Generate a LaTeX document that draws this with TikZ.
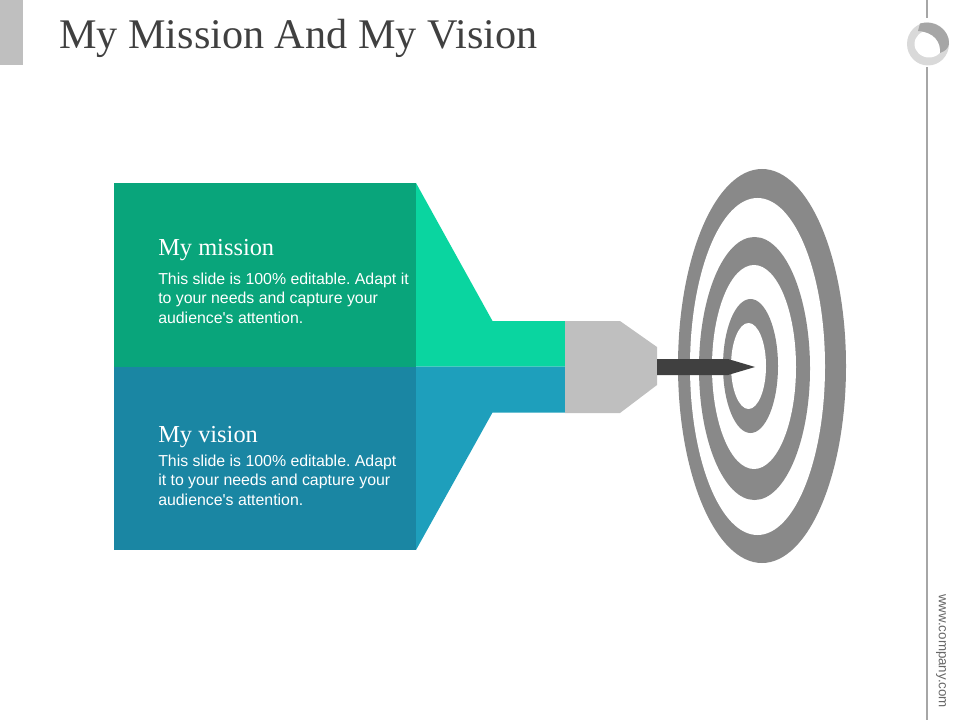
\documentclass[tikz,border=0pt]{standalone}
\usepackage{fontspec}
\setmainfont{Liberation Serif}
\newfontfamily\bodyfont{Liberation Sans}
\frenchspacing
\definecolor{missiondark}{HTML}{09A57B}
\definecolor{missionlight}{HTML}{0AD5A0}
\definecolor{visiondark}{HTML}{1A86A3}
\definecolor{visionlight}{HTML}{1E9FBC}
\definecolor{plugcolor}{HTML}{BFBFBF}
\definecolor{ringcolor}{HTML}{898989}
\definecolor{dartcolor}{HTML}{404040}
\definecolor{rulecolor}{HTML}{A6A6A6}
\tikzset{
    headtext/.style={anchor=base west, inner sep=0pt, text=white, font=\fontsize{18.3}{22}\selectfont},
    bodytext/.style={anchor=base west, inner sep=0pt, text=white, align=left, font=\bodyfont\fontsize{11.9}{14.5}\selectfont},
}
\begin{document}
\begin{tikzpicture}[x=0.75pt, y=-0.75pt]
        \useasboundingbox (0,0) rectangle (960,720);
        \fill[plugcolor] (0,0) rectangle (23,65);
        \draw[rulecolor, line width=1.5pt] (927,0) -- (927,18);
        \draw[rulecolor, line width=1.5pt] (927,67) -- (927,720);
        \fill[black!15] (928,44) circle [x radius=21, y radius=21.5];
        \fill[white] (929,44) circle [x radius=14.5, y radius=13.5];
        \fill[black!35] (920,23.5) .. controls (934,19) and (950,30) .. (949,44) .. controls (948,49) and (945,51) .. (940,53) .. controls (941,42) and (934,32) .. (918,31) -- cycle;
        \node[anchor=base west, inner sep=0pt, text=dartcolor, font=\fontsize{31.65}{38}\selectfont] (title) at (59,49) {My Mission And My Vision};
        \fill[missiondark] (114,183) rectangle (416,366.5);
        \fill[visiondark] (114,366.5) rectangle (416,550);
        \fill[missionlight] (416,183) -- (492.5,321) -- (565,321) -- (565,366.5) -- (416,366.5) -- cycle;
        \fill[visionlight] (416,550) -- (492.5,412.5) -- (565,412.5) -- (565,366.5) -- (416,366.5) -- cycle;
        \node[headtext] (missionhead) at (158,256) {My mission};
        \node[bodytext] (missionbody) at (158,323) {This slide is 100\% editable. Adapt it\\to your needs and capture your\\audience's attention.};
        \node[headtext] (visionhead) at (158,442) {My vision};
        \node[bodytext] (visionbody) at (158,505) {This slide is 100\% editable. Adapt\\it to your needs and capture your\\audience's attention.};
        \foreach \cx/\cy/\rx/\ry/\col in {762/366/84/197/ringcolor, 757.5/366.5/67.5/168.5/white, 754.5/368.5/55.5/131.5/ringcolor, 754/367/42/102/white, 750.5/366/27.5/67/ringcolor, 748.5/366/17.5/43/white} {
                \fill[\col] (\cx,\cy) circle [x radius=\rx, y radius=\ry];
            }
        \fill[plugcolor] (565,321) -- (620,321) -- (657,347) -- (657,385) -- (620,413) -- (565,413) -- cycle;
        \fill[dartcolor] (657,359) -- (728,359) -- (755,367) -- (728,375) -- (657,375) -- cycle;
        \node[anchor=center, rotate=-90, inner sep=0pt, text=black!60, font=\bodyfont\fontsize{10}{12}\selectfont] (website) at (941,651) {www.company.com};
    \end{tikzpicture}
\end{document}
